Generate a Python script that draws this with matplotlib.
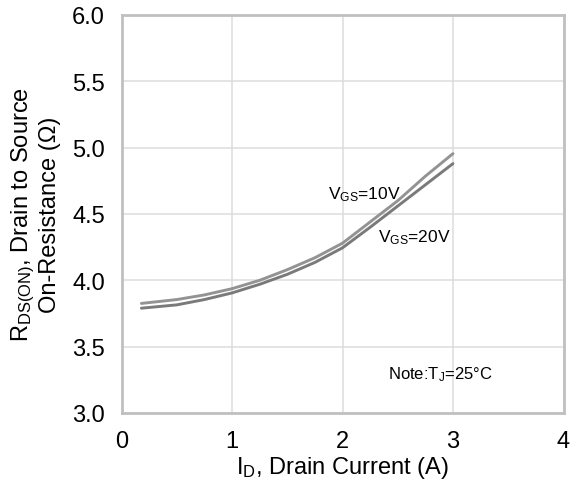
import numpy as np
import matplotlib.pyplot as plt

plt.rcParams['font.family'] = ['Liberation Sans', 'DejaVu Sans']
plt.rcParams['mathtext.fontset'] = 'custom'
plt.rcParams['mathtext.rm'] = 'Liberation Sans'
plt.rcParams['mathtext.it'] = 'Liberation Sans:italic'
plt.rcParams['mathtext.bf'] = 'Liberation Sans:bold'

# drain current (A)
id_amps = [0.18, 0.5, 0.75, 1.0, 1.25, 1.5, 1.75, 2.0, 2.25, 2.5, 2.75, 3.0]
# on-resistance (ohm)
rds_vgs10 = [3.826, 3.855, 3.89, 3.937, 4.00, 4.08, 4.17, 4.28, 4.44, 4.60, 4.785, 4.955]
rds_vgs20 = [3.79, 3.815, 3.855, 3.905, 3.97, 4.045, 4.135, 4.245, 4.40, 4.56, 4.72, 4.88]

xticks = [0, 1, 2, 3, 4]
yticks = [3.0, 3.5, 4.0, 4.5, 5.0, 5.5, 6.0]

fig = plt.figure(figsize=(5.71, 4.81), dpi=100)
ax = fig.add_axes([121.5/571, 1-414/481, (563.5-121.5)/571, (414-16)/481])

ax.plot(id_amps, rds_vgs10, color='#939393', linewidth=2.1,
        solid_capstyle='round', solid_joinstyle='round')
ax.plot(id_amps, rds_vgs20, color='#7a7a7a', linewidth=2.1,
        solid_capstyle='round', solid_joinstyle='round')

ax.set_xlim(0, 4)
ax.set_ylim(3.0, 6.0)
ax.set_xticks(xticks)
ax.set_yticks(yticks)
ax.set_xticklabels([str(v) for v in xticks])
ax.set_yticklabels(['%.1f' % v for v in yticks])
ax.tick_params(axis='both', length=0, labelsize=17, colors='black')
ax.tick_params(axis='x', pad=12)
ax.tick_params(axis='y', pad=12)

ax.grid(True, color='#dcdcdc', linewidth=1.1)
ax.set_axisbelow(True)
for s in ax.spines.values():
    s.set_color('#c0c0c0')
    s.set_linewidth(2)

ax.set_xlabel('I$_{\\mathrm{D}}$, Drain Current (A)', fontsize=17, labelpad=2)
ax.set_ylabel('R$_{\\mathrm{DS(ON)}}$, Drain to Source\nOn-Resistance (\u03a9)', fontsize=17,
              labelpad=8, linespacing=1.1)

ax.text(1.87, 4.65, 'V$_{\\mathrm{GS}}$=10V', fontsize=12.5, va='center', ha='left')
ax.text(2.32, 4.33, 'V$_{\\mathrm{GS}}$=20V', fontsize=12.5, va='center', ha='left')
ax.text(2.41, 3.30, 'Note:T$_{\\mathrm{J}}$=25\u00b0C', fontsize=12, va='center', ha='left')

fig.savefig('out.png', dpi=100)
